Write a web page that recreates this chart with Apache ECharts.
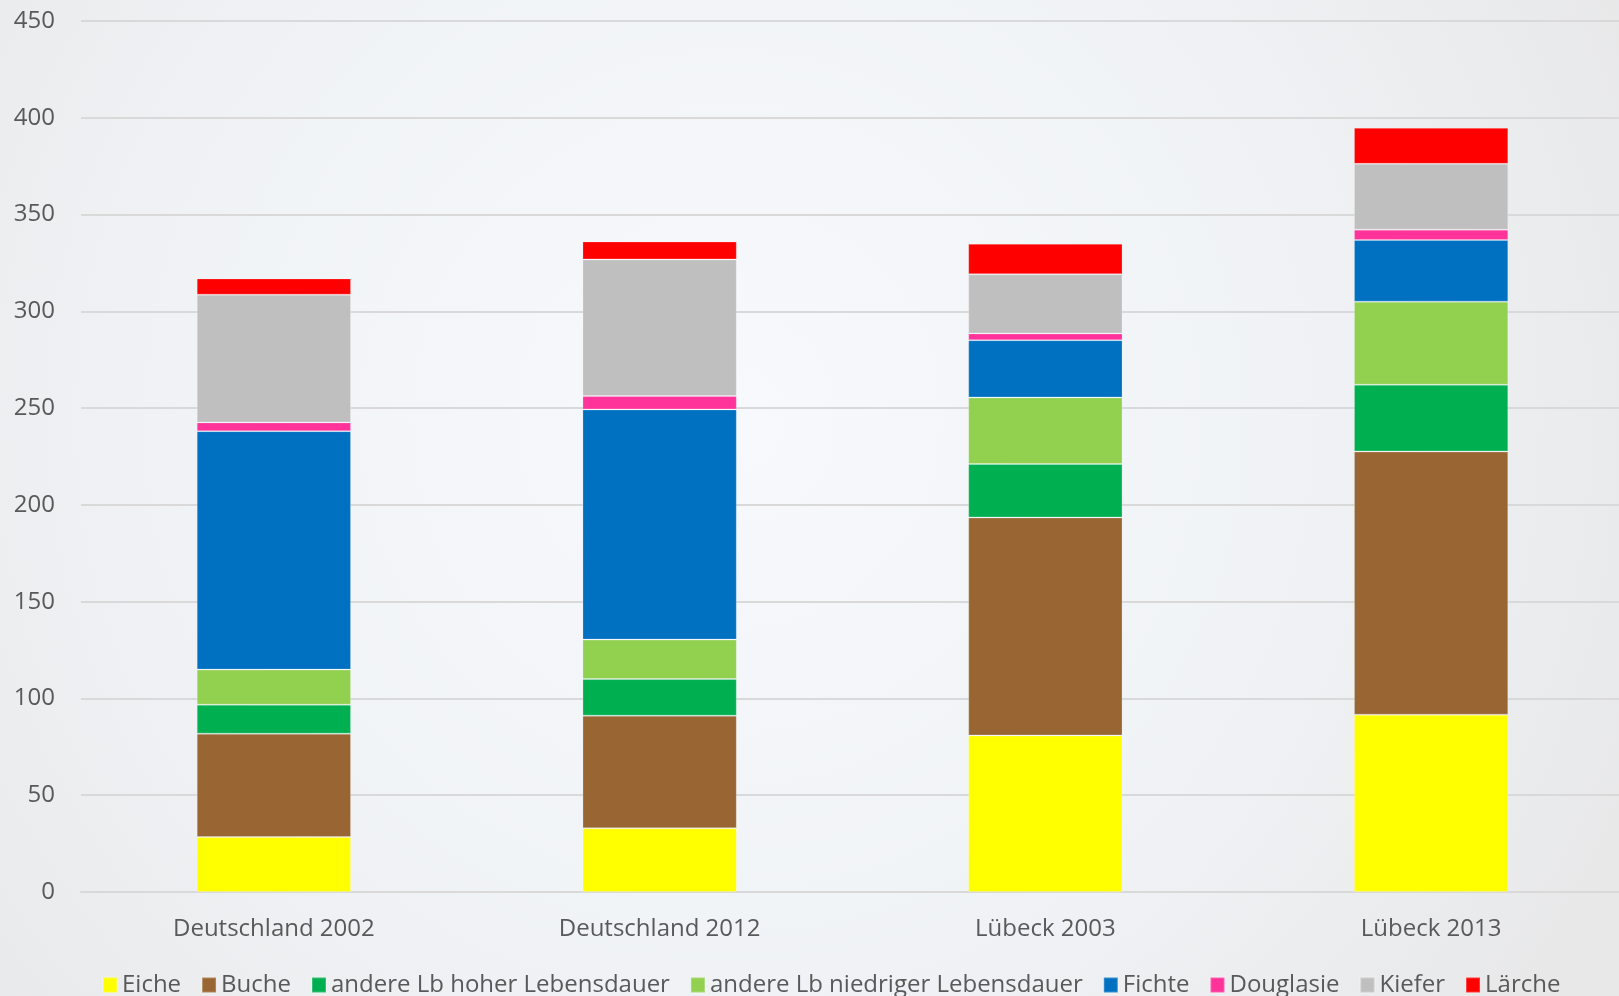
<!DOCTYPE html>
<html>
<head>
<meta charset="utf-8">
<title>Holzvorrat nach Baumarten</title>
<script src="https://cdn.jsdelivr.net/npm/echarts@6/dist/echarts.min.js"></script>
<style>
  html, body { margin: 0; padding: 0; }
  #chart { width: 1619px; height: 996px; }
</style>
</head>
<body>
<div id="chart"></div>
<script>
var categories = ['Deutschland 2002', 'Deutschland 2012', 'Lübeck 2003', 'Lübeck 2013'];

var eiche = [28.4, 32.9, 80.9, 91.6];
var buche = [53.4, 58.2, 112.6, 136.0];
var hoherLb = [15.0, 18.9, 27.6, 34.5];
var niedrigerLb = [18.1, 20.4, 34.4, 42.9];
var fichte = [123.2, 118.9, 29.6, 31.8];
var douglasie = [4.5, 6.9, 3.5, 5.4];
var kiefer = [66.0, 70.6, 30.6, 34.0];
var laerche = [8.4, 9.3, 15.7, 18.6];

var seriesNames = ['Eiche', 'Buche', 'andere Lb hoher Lebensdauer', 'andere Lb niedriger Lebensdauer',
    'Fichte', 'Douglasie', 'Kiefer', 'Lärche'];
var seriesData = [eiche, buche, hoherLb, niedrigerLb, fichte, douglasie, kiefer, laerche];
var colors = ['#ffff00', '#996633', '#00b050', '#92d050', '#0070c0', '#ff3399', '#bfbfbf', '#ff0000'];

var chartDom = document.getElementById('chart');
var myChart = echarts.init(chartDom);
var option;

var series = seriesNames.map(function (name, i) {
    return {
        name: name,
        type: 'bar',
        stack: 'total',
        barWidth: '40%',
        data: seriesData[i],
        itemStyle: {
            color: colors[i],
            borderColor: 'rgba(255,255,255,0.22)',
            borderWidth: 1
        }
    };
});

option = {
    backgroundColor: {
        type: 'radial',
        x: 0.45, y: 0.42, r: 1.0,
        colorStops: [
            {offset: 0, color: '#f7f9fd'},
            {offset: 0.5, color: '#f1f4f7'},
            {offset: 1, color: '#e8e8e9'}
        ]
    },
    textStyle: {fontFamily: 'Open Sans'},
    color: colors,
    legend: {
        data: seriesNames,
        left: 97,
        top: 968,
        itemWidth: 14,
        itemHeight: 15,
        itemGap: 20,
        icon: 'rect',
        textStyle: {fontSize: 24, color: '#595959', fontFamily: 'Open Sans'}
    },
    grid: {
        left: 81,
        width: 1543,
        top: 21,
        bottom: 104,
        outerBoundsMode: 'none'
    },
    xAxis: {
        type: 'category',
        data: categories,
        axisLine: {lineStyle: {color: '#d9d9d9', width: 2}},
        axisTick: {show: false},
        axisLabel: {fontSize: 24, color: '#595959', margin: 25, fontFamily: 'Open Sans'}
    },
    yAxis: {
        type: 'value',
        min: 0,
        max: 450,
        interval: 50,
        axisLine: {show: false},
        axisTick: {show: false},
        axisLabel: {fontSize: 24, color: '#595959', margin: 26, fontFamily: 'Open Sans'},
        splitLine: {lineStyle: {color: '#d9d9d9', width: 2}}
    },
    series: series
};

option && myChart.setOption(option);
</script>
</body>
</html>
